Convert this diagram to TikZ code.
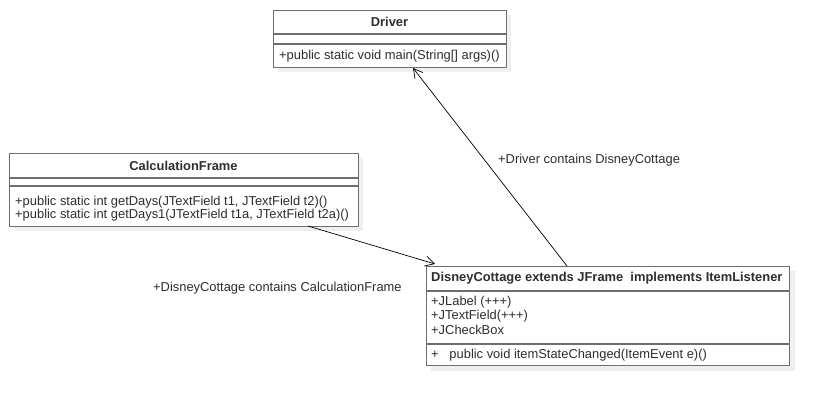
\documentclass[tikz,border=0pt]{standalone}
\usepackage{fontspec}
\setmainfont{Liberation Sans}
\usetikzlibrary{arrows.meta}
\definecolor{bordergray}{HTML}{6E6E6E}
\definecolor{shadowgray}{HTML}{EFEFEF}
\definecolor{textgray}{HTML}{2E2E2E}
\begin{document}
\begin{tikzpicture}[x=1pt,y=-1pt,
  umlbox/.style={draw=bordergray,line width=1.4pt,fill=white,inner sep=0pt},
  divider/.style={draw=bordergray,line width=1.2pt},
  titletext/.style={font=\fontsize{12.9}{14}\selectfont\bfseries,text=textgray,inner sep=0pt},
  membertext/.style={font=\fontsize{12.9}{14}\selectfont,text=textgray,inner sep=0pt,anchor=west,align=left},
  labeltext/.style={font=\fontsize{12.9}{14}\selectfont,text=textgray,inner sep=0pt,anchor=west},
  assoc/.style={draw=black,line width=0.7pt,-{Straight Barb[length=9pt,width=10pt,line width=0.7pt]}}
]
\useasboundingbox (0,0) rectangle (829,406);
\fill[white] (0,0) rectangle (829,406);

% shadows
\fill[shadowgray] (278,15) rectangle (511,72);
\fill[shadowgray] (14,158) rectangle (363,231);
\fill[shadowgray] (431,271) rectangle (795,371);

% Driver
\node[umlbox,minimum width=233pt,minimum height=57pt,anchor=north west] (drv) at (273,10) {};
\draw[divider] (273,34) -- (506,34);
\draw[divider] (273,44) -- (506,44);
\node[titletext] (drvt) at (389.5,22) {Driver};
\node[membertext] (drvm) at (279,56) {+public static void main(String[] args)()};

% CalculationFrame
\node[umlbox,minimum width=349pt,minimum height=73pt,anchor=north west] (cf) at (9,153) {};
\draw[divider] (9,178) -- (358,178);
\draw[divider] (9,186) -- (358,186);
\node[titletext] (cft) at (183.5,166) {CalculationFrame};
\node[membertext] (cfm1) at (15,202.5) {+public static int getDays(JTextField t1, JTextField t2)()};
\node[membertext] (cfm2) at (15,215.5) {+public static int getDays1(JTextField t1a, JTextField t2a)()};

% DisneyCottage
\node[umlbox,minimum width=363pt,minimum height=99pt,anchor=north west] (dc) at (426,266) {};
\draw[divider] (426,291) -- (789,291);
\draw[divider] (426,344) -- (789,344);
\node[titletext,anchor=west] (dct) at (431,278.5) {DisneyCottage extends JFrame\ \ implements ItemListener};
\node[membertext] (dca1) at (431,302.5) {+JLabel (+++)};
\node[membertext] (dca2) at (431,316) {+JTextField(+++)};
\node[membertext] (dca3) at (431,330) {+JCheckBox};
\node[membertext] (dcm) at (431,355.5) {+\ \ \ public void itemStateChanged(ItemEvent e)()};

% connectors
\coordinate (s1) at (567,266);
\coordinate (e1) at (413,68);
\draw[assoc] (s1) -- (e1);
\coordinate (s2) at (308,226);
\coordinate (e2) at (435,264);
\draw[assoc] (s2) -- (e2);

% labels
\node[labeltext] (l1) at (498,160) {+Driver contains DisneyCottage};
\node[labeltext] (l2) at (153,288.5) {+DisneyCottage contains CalculationFrame};
\end{tikzpicture}
\end{document}
